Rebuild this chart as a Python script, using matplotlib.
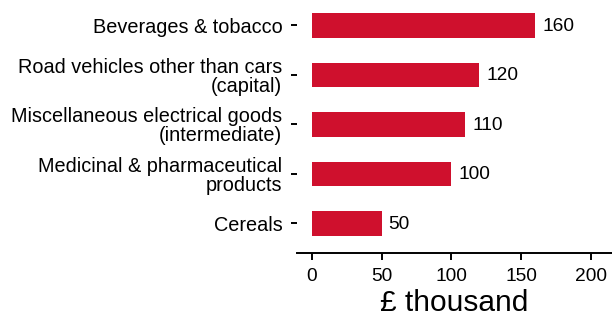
import matplotlib.pyplot as plt

plt.rcParams['font.family'] = ['Liberation Sans', 'DejaVu Sans']

# Categories (bottom to top) and values in £ thousand
categories = [
    "Cereals",
    "Medicinal & pharmaceutical\nproducts",
    "Miscellaneous electrical goods\n(intermediate)",
    "Road vehicles other than cars\n(capital)",
    "Beverages & tobacco",
]
values = [50, 100, 110, 120, 160]
xticks = [0, 50, 100, 150, 200]
bar_color = '#CF102D'

fig = plt.figure(figsize=(6.12, 3.16), dpi=100)
ax = fig.add_axes([297 / 612, 1 - 252.7 / 316, 1 - 297 / 612, 252.7 / 316])

pos = range(len(categories))
ax.barh(pos, values, height=0.5, color=bar_color)

for y, v in zip(pos, values):
    ax.annotate(str(v), xy=(v, y), xytext=(5, -0.5), textcoords='offset points',
                va='center', ha='left', fontsize=13.8)

ax.set_yticks(list(pos))
ax.set_yticklabels(categories, fontsize=14.3, linespacing=1.0)
ax.set_xticks(xticks)
ax.set_xlim(-10.5, 215)
ax.set_ylim(-0.59, 4.515)

for side in ['top', 'right', 'left']:
    ax.spines[side].set_visible(False)
ax.spines['bottom'].set_linewidth(1.4)

ax.tick_params(axis='y', length=4.5, width=1.4, pad=6)
ax.tick_params(axis='x', length=5, width=1.4, labelsize=13.8, pad=6)
ax.set_xlabel("£ thousand", fontsize=21.5, labelpad=3)

fig.savefig('out.png', dpi=100)
